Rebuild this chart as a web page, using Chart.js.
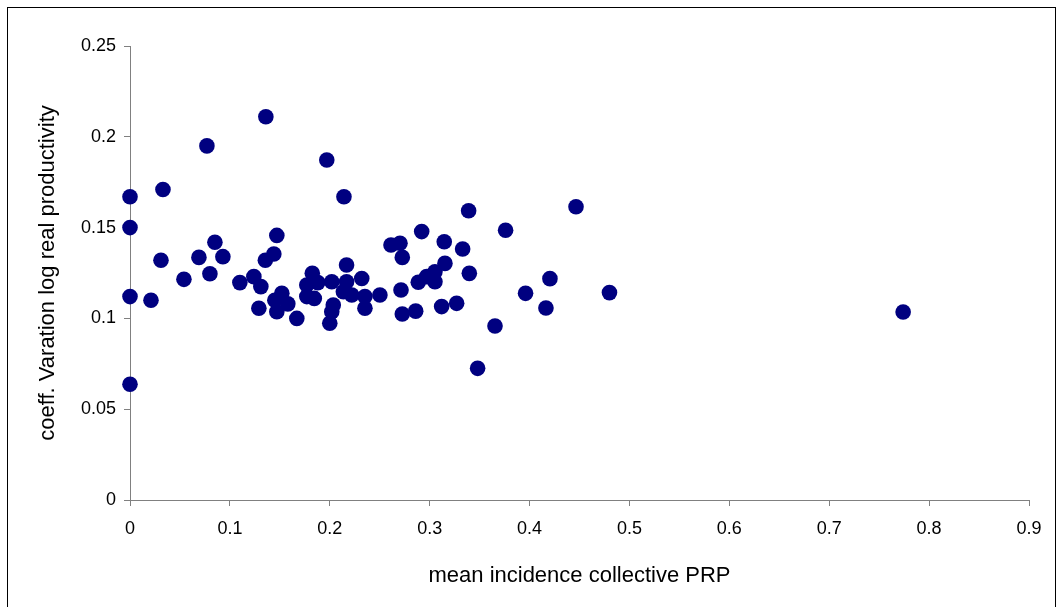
<!DOCTYPE html>
<html>
<head>
<meta charset="utf-8">
<script src="https://cdn.jsdelivr.net/npm/chart.js@4"></script>
<style>
  body { margin: 0; background: #fff; }
  #frame { position: absolute; left: 7px; top: 7px; width: 1049px; height: 640px; border: 1px solid #000; box-sizing: border-box; pointer-events: none; }
  canvas { position: absolute; left: 0; top: 0; }
</style>
</head>
<body>
<canvas id="myChart" width="1059" height="607"></canvas>
<div id="frame"></div>
<script>
// mean incidence collective PRP (x) vs coeff. variation log real productivity (y)
const incidence = [
  0, 0, 0, 0, 0.021, 0.031, 0.033, 0.054, 0.069, 0.077,
  0.080, 0.085, 0.093, 0.110, 0.124, 0.129, 0.131, 0.1355, 0.136, 0.144,
  0.147, 0.145, 0.147, 0.152, 0.158, 0.167, 0.177, 0.177, 0.1825, 0.1845,
  0.188, 0.197, 0.202, 0.2035, 0.202, 0.200, 0.2136, 0.2142, 0.2168, 0.2168,
  0.222, 0.232, 0.2352, 0.2352, 0.2502, 0.2613, 0.2703, 0.2726, 0.2713, 0.2726,
  0.286, 0.2886, 0.292, 0.297, 0.3053, 0.3053, 0.312, 0.3146, 0.3153, 0.327,
  0.333, 0.339, 0.3397, 0.348, 0.3654, 0.376, 0.396, 0.4164, 0.4204, 0.4465,
  0.480, 0.774
];
const coeffVar = [
  0.167, 0.150, 0.112, 0.0637, 0.110, 0.132, 0.171, 0.1215, 0.1336, 0.195,
  0.1246, 0.1419, 0.134, 0.1197, 0.123, 0.1056, 0.1175, 0.132, 0.211, 0.1355,
  0.1457, 0.110, 0.1037, 0.1138, 0.108, 0.100, 0.1184, 0.112, 0.1248, 0.111,
  0.1197, 0.1872, 0.1202, 0.1074, 0.1037, 0.0973, 0.1147, 0.167, 0.1294, 0.1202,
  0.1129, 0.122, 0.112, 0.1056, 0.1129, 0.1404, 0.1414, 0.1336, 0.1156, 0.1024,
  0.104, 0.1199, 0.1478, 0.123, 0.1257, 0.1202, 0.1065, 0.1422, 0.1303, 0.1083,
  0.1382, 0.1593, 0.1248, 0.0725, 0.0958, 0.1485, 0.1138, 0.1057, 0.1219, 0.1615,
  0.1142, 0.1035
];
const xTitle = "mean incidence collective PRP";
const yTitle = "coeff. Varation log real productivity";

const points = incidence.map((x, i) => ({ x: x, y: coeffVar[i] }));
const fmt = (v) => String(+v.toFixed(2));

const ctx = document.getElementById("myChart").getContext("2d");
const myChart = new Chart(ctx, {
  type: "scatter",
  data: {
    datasets: [
      {
        label: yTitle,
        data: points,
        backgroundColor: "#000080",
        borderColor: "#000080",
        borderWidth: 0,
        pointRadius: 7.8,
        pointHoverRadius: 7.8,
        clip: false,
      },
    ],
  },
  options: {
    responsive: false,
    animation: false,
    layout: {
      padding: { top: 46, right: 30, bottom: 0, left: 0 },
    },
    plugins: {
      legend: { display: false },
      tooltip: { enabled: false },
    },
    scales: {
      x: {
        type: "linear",
        min: 0,
        max: 0.9,
        afterFit: (s) => { s.height = 107; },
        border: { color: "#808080", width: 1 },
        grid: { drawOnChartArea: false, drawTicks: true, tickLength: 6, color: "#808080" },
        ticks: {
          stepSize: 0.1,
          padding: 12,
          color: "#000",
          font: { family: "Liberation Sans, Arial", size: 18 },
          callback: fmt,
        },
        title: {
          display: true,
          text: xTitle,
          color: "#000",
          font: { family: "Liberation Sans, Arial", size: 22 },
          padding: { top: 0, bottom: 18 },
        },
      },
      y: {
        type: "linear",
        min: 0,
        max: 0.25,
        afterFit: (s) => { s.width = 130; },
        border: { color: "#808080", width: 1 },
        grid: { drawOnChartArea: false, drawTicks: true, tickLength: 6, color: "#808080" },
        ticks: {
          stepSize: 0.05,
          padding: 8,
          color: "#000",
          font: { family: "Liberation Sans, Arial", size: 18 },
          callback: fmt,
        },
        title: {
          display: true,
          text: yTitle,
          color: "#000",
          font: { family: "Liberation Sans, Arial", size: 22 },
          padding: { top: 35, bottom: 0 },
        },
      },
    },
  },
});
</script>
</body>
</html>
